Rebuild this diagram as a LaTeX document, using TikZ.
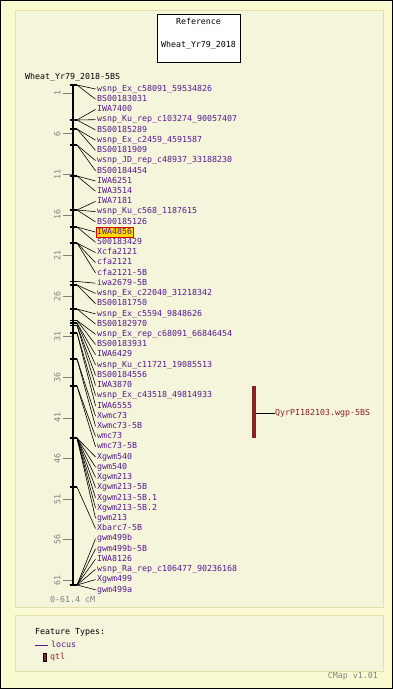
\documentclass[tikz,border=0pt]{standalone}
\usepackage{fontspec}
\newfontfamily\mapfont{DejaVu Sans Mono}
\usetikzlibrary{positioning}
\definecolor{pagebg}{HTML}{FAFAD2}
\definecolor{panelbg}{HTML}{F5F5DC}
\definecolor{panelline}{HTML}{E6E0A8}
\definecolor{locuscol}{HTML}{551A8B}
\definecolor{qtlcol}{HTML}{8B2323}
\definecolor{hlfill}{HTML}{FFD700}

\begin{document}
\begin{tikzpicture}[x=1pt, y=-1pt,
  every node/.style={font=\mapfont\fontsize{8.3}{9}\selectfont, inner sep=0pt, text height=6pt, text depth=1.5pt},
  locuslbl/.style={anchor=west, text=locuscol, inner xsep=1.5pt},
  scalelbl/.style={rotate=90, text=gray},
  conn/.style={line width=0.6pt},
  mtick/.style={line width=1.2pt}]
\useasboundingbox (0,0) rectangle (393,689);
% page and panels
\fill[pagebg] (0,0) rectangle (393,689);
\draw[line width=1pt] (0.5,0.5) rectangle (392.5,688.5);
\draw[panelline, fill=panelbg] (15,10) rectangle (383,607);

% reference box
\node[draw, fill=white, minimum width=83pt, minimum height=48pt] (refbox) at (198.5,38) {};
\node (reftitle) at (198.5,22) {Reference};
\node (refname) at (198.5,45.5) {Wheat\_Yr79\_2018};
\node[anchor=west] (maptitle) at (25,77) {Wheat\_Yr79\_2018-5BS};

% scale ticks
\foreach \c in {1,6,...,61} {
    \draw[gray, line width=0.8pt] (63,{85+8.12*\c}) -- (72,{85+8.12*\c});
    \node[scalelbl] (s\c) at (58,{85+8.12*\c}) {\c};
}
\node[anchor=west, text=gray] (range) at (50,600) {0-61.4 cM};

% chromosome
\draw[line width=2pt] (73,85) -- (73,585);
\draw[line width=1.5pt] (69.5,85) -- (77,85);
\draw[line width=1.5pt] (69.5,585) -- (77,585);

% loci
\foreach \i/\ay/\txt in {1/85/wsnp\_Ex\_c58091\_59534826, 2/85/BS00183031,
    3/120/IWA7400, 4/120/wsnp\_Ku\_rep\_c103274\_90057407, 5/120/BS00185289,
    6/129/wsnp\_Ex\_c2459\_4591587, 7/129/BS00181909,
    8/145/wsnp\_JD\_rep\_c48937\_33188230, 9/145/BS00184454,
    10/176/IWA6251, 11/176/IWA3514,
    12/210/IWA7181, 13/210/wsnp\_Ku\_c568\_1187615, 14/210/BS00185126,
    16/227/S00183429,
    17/243/Xcfa2121, 18/243/cfa2121, 19/243/cfa2121-5B,
    20/281.5/iwa2679-5B,
    21/285/wsnp\_Ex\_c22040\_31218342, 22/285/BS00181750,
    23/309/wsnp\_Ex\_c5594\_9848626, 24/309/BS00182970,
    25/320.5/wsnp\_Ex\_rep\_c68091\_66846454, 26/320.5/BS00183931,
    27/323/IWA6429, 28/323/wsnp\_Ku\_c11721\_19085513,
    29/325.5/BS00184556, 30/325.5/IWA3870,
    31/333/wsnp\_Ex\_c43518\_49814933, 32/333/IWA6555,
    33/359/Xwmc73, 34/359/Xwmc73-5B,
    35/386/wmc73, 36/386/wmc73-5B,
    37/438/Xgwm540, 38/438/gwm540, 39/438/Xgwm213, 40/438/Xgwm213-5B,
    41/438/Xgwm213-5B.1, 42/438/Xgwm213-5B.2, 43/438/gwm213,
    44/487/Xbarc7-5B,
    45/585/gwm499b, 46/585/gwm499b-5B, 47/585/IWA8126,
    48/585/wsnp\_Ra\_rep\_c106477\_90236168, 49/585/Xgwm499, 50/585/gwm499a} {
    \coordinate (m\i) at (77,\ay);
    \draw[mtick] (69.5,\ay) -- (m\i);
    \node[locuslbl] (l\i) at (95.5,{89+10.22*(\i-1)}) {\txt};
    \draw[conn] (m\i) -- (l\i.west);
}
% highlighted locus
\coordinate (m15) at (77,227);
\draw[mtick] (69.5,227) -- (m15);
\node[locuslbl, fill=hlfill, draw=red!85!black, inner ysep=1.3pt] (l15) at (95.5,232.1) {IWA4856};
\draw[conn] (m15) -- (l15.west);

% qtl
\fill[qtlcol] (252,386) rectangle (255.5,438);
\coordinate (qtlmid) at (255.5,413);
\node[anchor=west, text=qtlcol] (qtllbl) at (275,413) {QyrPI182103.wgp-5BS};
\draw[conn] (qtlmid) -- (qtllbl.west);

% legend
\draw[panelline, fill=panelbg] (15,615) rectangle (383,671);
\node[anchor=west] (ftitle) at (35,632) {Feature Types:};
\draw[locuscol, line width=0.8pt] (35,645) -- (48,645);
\node[anchor=west, text=locuscol] (flocus) at (51,645) {locus};
\draw[fill=qtlcol, line width=0.6pt] (43,653) rectangle (46,661);
\node[anchor=west, text=qtlcol] (fqtl) at (50,657) {qtl};
\node[anchor=east, text=gray] (version) at (378,676) {CMap v1.01};
\end{tikzpicture}
\end{document}
